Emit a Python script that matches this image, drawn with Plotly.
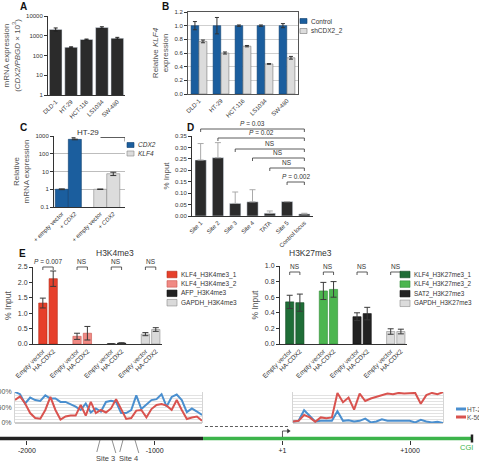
import plotly.graph_objects as go

W, H = 479, 466
def X(p): return p / W
def Y(p): return 1 - p / H

FONT = "Liberation Sans, Arial, sans-serif"
INK = "#333333"

# ---------------- data ----------------
a_cells = ["DLD-1", "HT-29", "HCT-116", "LS1034", "SW-480"]
a_expr = [2100, 260, 650, 2600, 750]
a_err = [380, 15, 30, 250, 80]

b_cells = ["DLD-1", "HT-29", "HCT-116", "LS1034", "SW-480"]
b_control = [1.0, 1.0, 1.0, 1.0, 1.0]
b_control_err = [0.06, 0.12, 0.01, 0.01, 0.03]
b_sh = [0.77, 0.60, 0.70, 0.44, 0.53]
b_sh_err = [0.02, 0.015, 0.01, 0.005, 0.02]

c_treat = ["+ empty vector", "+ <i>CDX2</i>"]
c_genes = ["CDX2", "KLF4"]
c_vals = [[1.0, 650.0], [1.0, 7.5]]
c_errs = [[0.05, 40.0], [0.03, 1.6]]

d_sites = ["Site 1", "Site 2", "Site 3", "Site 4", "TATA", "Site 5", "Control locus"]
d_vals = [0.245, 0.255, 0.055, 0.062, 0.012, 0.063, 0.009]
d_errs = [0.072, 0.066, 0.05, 0.053, 0.01, 0.0, 0.003]
d_tests = [("Site 1", "<i>P</i> = 0.03"), ("Site 2", "<i>P</i> = 0.02"), ("Site 3", "NS"),
           ("Site 4", "NS"), ("TATA", "NS"), ("Site 5", "<i>P</i> = 0.002")]
d_ref = "Control locus"

e_conditions = ["Empty vector", "HA-CDX2"]
e_k4_names = ["KLF4_H3K4me3_1", "KLF4_H3K4me3_2", "AFP_H3K4me3", "GAPDH_H3K4me3"]
e_k4_vals = [[1.33, 2.12], [0.25, 0.35], [0.005, 0.03], [0.32, 0.47]]
e_k4_errs = [[0.16, 0.25], [0.1, 0.22], [0.003, 0.01], [0.05, 0.06]]
e_k4_tests = ["<i>P</i> = 0.007", "NS", "NS", "NS"]
e_k27_names = ["KLF4_H3K27me3_1", "KLF4_H3K27me3_2", "SAT2_H3K27me3", "GAPDH_H3K27me3"]
e_k27_vals = [[0.54, 0.53], [0.68, 0.70], [0.35, 0.39], [0.16, 0.16]]
e_k27_errs = [[0.085, 0.11], [0.11, 0.10], [0.05, 0.08], [0.035, 0.03]]
e_k27_tests = ["NS", "NS", "NS", "NS"]

meth_up_ht29 = [100, 93, 63, 82, 74, 71, 89, 79, 79, 68, 68, 61, 53, 42, 63, 34, 47, 37, 68, 72,
                68, 32, 32, 42, 89, 45, 58, 74, 77, 93, 53, 84, 92, 74, 35, 47, 37, 26]
meth_up_k562 = [74, 86, 63, 32, 16, 14, 42, 84, 42, 11, 21, 24, 24, 58, 24, 68, 32, 42, 34, 47,
                77, 47, 13, 16, 40, 42, 18, 45, 58, 61, 56, 42, 74, 42, 13, 18, 21, 7]
meth_cgi_ht29 = [5, 7, 41, 23, 5, 7, 7, 7, 38, 7, 9, 5, 7, 14, 2, 5, 12, 7, 7, 7, 5, 7, 2, 10, 5, 2, 4, 0]
meth_cgi_k562 = [5, 7, 26, 18, 4, 18, 15, 18, 97, 67, 82, 43, 95, 71, 79, 85, 90, 95, 93, 97, 95, 97,
                 97, 62, 90, 97, 93, 99]
meth_names = ["HT-29", "K-562"]

g_ticks = [-2000, -1000, 1, 1000]
g_ticktext = ["-2000", "-1000", "+1", "+1000"]
g_window = [-2211, 1540]
g_cgi = [-621, 1485]
g_gap = [-606, 60]
g_sites = [("Site 3", -1428, -1334), ("Site 4", -1248, -1154)]

# ---------------- colours ----------------
DARK = "#2b2b2b"
BLUE = "#1b5e9e"
LGREY = "#dcdcdc"
k4_colors = ["#e6402b", "#f08a84", "#222222", "#dadada"]
k4_lines = ["#b52a17", "#c9564f", "#111111", "#8a8a8a"]
k27_colors = ["#1f6e37", "#4cb64f", "#222222", "#dcdcdc"]
k27_lines = ["#134a23", "#2f8b35", "#111111", "#8a8a8a"]
meth_colors = ["#4a8fcf", "#d9534f"]

fig = go.Figure()
shapes, annos = [], []

def ax(**kw):
    base = dict(showgrid=False, zeroline=False, showline=True, linecolor=INK, linewidth=1,
                ticks="outside", ticklen=3, tickwidth=1, tickcolor=INK, automargin=False,
                tickfont=dict(size=6, color=INK, family=FONT), fixedrange=True)
    base.update(kw)
    return base

def ytitle(t, size=8):
    return dict(text=t, font=dict(size=size, color="#555555", family=FONT), standoff=4)

def text(x, y, t, size=7, color=INK, xref="paper", yref="paper", **kw):
    d = dict(x=x, y=y, xref=xref, yref=yref, text=t, showarrow=False,
             font=dict(size=size, color=color, family=FONT))
    d.update(kw)
    annos.append(d)

def line(x0, y0, x1, y1, xref="paper", color=INK, width=0.8, dash=None):
    ln = dict(color=color, width=width)
    if dash:
        ln["dash"] = dash
    shapes.append(dict(type="line", xref=xref, yref="paper", x0=x0, x1=x1, y0=y0, y1=y1, line=ln))

def bracket(xref, xa, xb, ypx, label, size=6.5, drop=3):
    line(xa, Y(ypx), xb, Y(ypx), xref=xref)
    line(xa, Y(ypx), xa, Y(ypx + drop), xref=xref)
    line(xb, Y(ypx), xb, Y(ypx + drop), xref=xref)
    text((xa + xb) / 2, Y(ypx - 0.5), label, size=size, xref=xref, yanchor="bottom")

def legend_box(items, x0, y0, step, sw=7, sh=5, size=7):
    for i, (name, fill, edge) in enumerate(items):
        yc = y0 + i * step
        shapes.append(dict(type="rect", xref="paper", yref="paper", x0=X(x0), x1=X(x0 + sw),
                           y0=Y(yc + sh / 2), y1=Y(yc - sh / 2), fillcolor=fill,
                           line=dict(color=edge, width=0.6)))
        text(X(x0 + sw + 2), Y(yc), name, size=size, xanchor="left", yanchor="middle")

# ---------------- A ----------------
fig.add_trace(go.Bar(x=a_cells, y=a_expr, width=0.82, marker=dict(color=DARK),
                     error_y=dict(type="data", array=a_err, color="#222", thickness=1, width=2),
                     xaxis="x", yaxis="y"))

# ---------------- B ----------------
fig.add_trace(go.Bar(x=b_cells, y=b_control, width=0.35, offset=-0.36,
                     marker=dict(color=BLUE, line=dict(color="#0e3d6b", width=0.5)),
                     error_y=dict(type="data", array=b_control_err, color="#333", thickness=1, width=2),
                     xaxis="x2", yaxis="y2"))
fig.add_trace(go.Bar(x=b_cells, y=b_sh, width=0.36, offset=0.0,
                     marker=dict(color=LGREY, line=dict(color="#777", width=0.6)),
                     error_y=dict(type="data", array=b_sh_err, color="#333", thickness=1, width=2),
                     xaxis="x2", yaxis="y2"))
legend_box([("Control", BLUE, "#0e3d6b"), ("shCDX2_2", LGREY, "#777")], 300, 21, 10, size=6.5)

# ---------------- C ----------------
c_pos = []
for g, gene in enumerate(c_genes):
    xs = [g * 2.95 + j for j in range(len(c_treat))]
    c_pos += xs
    fill, edge = (BLUE, "#0e3d6b") if g == 0 else (LGREY, "#888")
    fig.add_trace(go.Bar(x=xs, y=c_vals[g], width=1.0, marker=dict(color=fill, line=dict(color=edge, width=0.6)),
                         error_y=dict(type="data", array=c_errs[g], color="#333", thickness=1, width=3),
                         xaxis="x3", yaxis="y3"))
legend_box([("<i>CDX2</i>", BLUE, "#0e3d6b"), ("<i>KLF4</i>", LGREY, "#888")], 127, 145, 8.5, size=6.5)
line(0.75, Y(137.5), 4.85, Y(137.5), xref="x3")
line(4.85, Y(137.5), 4.85, Y(141.5), xref="x3")
text(sum(c_pos) / len(c_pos), Y(139), "HT-29", size=8, xref="x3", yanchor="bottom", bgcolor="white")

# ---------------- D ----------------
fig.add_trace(go.Bar(x=list(range(len(d_sites))), y=d_vals, width=0.65, marker=dict(color=DARK),
                     error_y=dict(type="data", symmetric=False, array=d_errs, arrayminus=[0] * len(d_errs),
                                  color="#aaaaaa", thickness=1, width=3),
                     xaxis="x4", yaxis="y4"))
d_levels = [129, 138, 149, 158, 168, 182]
for (site, lab), ypx in zip(d_tests, d_levels):
    bracket("x4", d_sites.index(site), d_sites.index(d_ref), ypx, lab, size=6.5)

# ---------------- E ----------------
def e_panel(names, vals, errs, tests, colors, edges, xa, ya, levels):
    ticks = []
    for g in range(len(names)):
        xs = [g * 3.3 + j for j in range(len(e_conditions))]
        ticks += xs
        fig.add_trace(go.Bar(x=xs, y=vals[g], width=0.8,
                             marker=dict(color=colors[g], line=dict(color=edges[g], width=0.6)),
                             error_y=dict(type="data", array=errs[g], color="#3a3a3a", thickness=1, width=3),
                             xaxis=xa, yaxis=ya))
        bracket(xa, xs[0], xs[-1], levels, tests[g], size=6.5)
    return ticks

e_ticks = e_panel(e_k4_names, e_k4_vals, e_k4_errs, e_k4_tests, k4_colors, k4_lines, "x5", "y5", 267)
e_panel(e_k27_names, e_k27_vals, e_k27_errs, e_k27_tests, k27_colors, k27_lines, "x6", "y6", 272)
e_ticktext = e_conditions * len(e_k4_names)
legend_box(list(zip(e_k4_names, k4_colors, k4_lines)), 167, 274.5, 9.4, sw=10, sh=6.5, size=6.5)
legend_box(list(zip(e_k27_names, k27_colors, k27_lines)), 400, 274.5, 9.6, sw=10, sh=6.5, size=6.3)
text(X(94), Y(253), "H3K4me3", size=8.5, yanchor="middle")
text(X(310), Y(253), "H3K27me3", size=8.5, yanchor="middle")

# ---------------- methylation profiles ----------------
for vals, c, xa, ya in [(meth_up_ht29, meth_colors[0], "x7", "y7"), (meth_up_k562, meth_colors[1], "x7", "y7"),
                        (meth_cgi_ht29, meth_colors[0], "x8", "y8"), (meth_cgi_k562, meth_colors[1], "x8", "y8")]:
    fig.add_trace(go.Scatter(x=list(range(len(vals))), y=vals, mode="lines",
                             line=dict(color=c, width=2), xaxis=xa, yaxis=ya))
for i, (nm, c) in enumerate(zip(meth_names, meth_colors)):
    yc = 409 + i * 8
    line(X(456), Y(yc), X(466), Y(yc), color=c, width=3)
    text(X(465), Y(yc), nm, size=6.5, color="#555", xanchor="left", yanchor="middle")

# ---------------- genomic map ----------------
line(g_window[0], Y(438.5), g_cgi[0], Y(438.5), xref="x9", color="#222", width=3.5)
line(g_cgi[0], Y(438.5), g_cgi[1], Y(438.5), xref="x9", color="#3cb44b", width=3.5)
line(g_cgi[1], Y(434.5), g_cgi[1], Y(442.5), xref="x9", color="#222", width=2.5)
line(g_gap[0], Y(426.5), g_gap[1], Y(426.5), xref="x9", color="#333", width=0.8, dash="3px,2px")
# TSS bent arrow at +1
line(1, Y(437), 1, Y(431), xref="x9", color="#333", width=0.8)
line(1, Y(431), 45, Y(431), xref="x9", color="#333", width=0.8)
shapes.append(dict(type="path", xref="x9", yref="paper",
                   path="M 40,%f L 62,%f L 40,%f Z" % (Y(429), Y(431), Y(433)),
                   fillcolor="#333", line=dict(color="#333", width=0.5)))
text(1440, Y(447.5), "CGI", size=7.5, color="#3cb44b", xref="x9", yanchor="middle")
for name, s0, s1 in g_sites:
    line(s0, Y(440), s0 - 25, Y(452), xref="x9", color="#444", width=0.6)
    line(s1, Y(440), s1 + 30, Y(453), xref="x9", color="#444", width=0.6)
    text((s0 + s1) / 2, Y(458), name, size=7.5, color="#444", xref="x9", yanchor="middle")

# ---------------- panel letters ----------------
for lab, xp, yp in [("A", 18, 7), ("B", 165, 7), ("C", 18, 127), ("D", 190, 127), ("E", 17, 253)]:
    text(X(xp), Y(yp), "<b>%s</b>" % lab, size=10, color="#111", yanchor="middle")

rot = dict(tickangle=-45, ticks="")
grid_light = "#e2e2e2"
fig.update_layout(
    width=W, height=H, margin=dict(l=0, r=0, t=0, b=0, pad=0, autoexpand=False), showlegend=False,
    paper_bgcolor="white", plot_bgcolor="white", barmode="overlay",
    font=dict(family=FONT, color=INK, size=7),
    xaxis=ax(domain=[X(48), X(125)], anchor="y", **rot),
    yaxis=ax(domain=[Y(95), Y(16)], anchor="x", type="log", range=[0, 4],
             tickvals=[1, 10, 100, 1000, 10000], ticktext=["1", "10", "100", "1000", "10000"],
             title=ytitle("mRNA expression<br>(<i>CDX2/PBGD</i> × 10<sup>3</sup>)")),
    xaxis2=ax(domain=[X(188), X(298)], anchor="y2", mirror=True, linecolor="#555", **rot),
    yaxis2=ax(domain=[Y(94), Y(12)], anchor="x2", range=[0, 1.2], dtick=0.2, tickformat=".1f",
              showgrid=True, gridcolor="#cfcfcf", mirror=True, linecolor="#555",
              title=ytitle("Relative <i>KLF4</i><br>expression")),
    xaxis3=ax(domain=[X(54), X(125)], anchor="y3", range=[-0.6, 4.85], tickvals=c_pos,
              ticktext=c_treat * len(c_genes), **rot),
    yaxis3=ax(domain=[Y(207), Y(136)], anchor="x3", type="log", range=[-1, 3],
              tickvals=[0.1, 1, 10, 100, 1000], ticktext=["0.1", "1", "10", "100", "1000"],
              showgrid=True, gridcolor="#bdbdbd", title=ytitle("Relative<br>mRNA expression")),
    xaxis4=ax(domain=[X(192), X(313)], anchor="y4", range=[-0.5, 6.5], tickvals=list(range(len(d_sites))),
              ticktext=d_sites, **rot),
    yaxis4=ax(domain=[Y(216), Y(136)], anchor="x4", range=[0, 0.35], dtick=0.05, tickformat=".2f",
              title=ytitle("% Input")),
    xaxis5=ax(domain=[X(33), X(162)], anchor="y5", range=[-0.95, 11.5], tickvals=e_ticks,
              ticktext=e_ticktext, tickfont=dict(size=6.5, color=INK, family=FONT), **rot),
    yaxis5=ax(domain=[Y(344), Y(267)], anchor="x5", range=[0, 2.5], dtick=0.5, tickformat=".1f",
              tickfont=dict(size=7, color=INK, family=FONT), title=ytitle("% Input", 8.5)),
    xaxis6=ax(domain=[X(280), X(407)], anchor="y6", range=[-0.95, 11.5], tickvals=e_ticks,
              ticktext=e_ticktext, tickfont=dict(size=6.5, color=INK, family=FONT), **rot),
    yaxis6=ax(domain=[Y(344), Y(266)], anchor="x6", range=[0, 1.0], dtick=0.2, tickformat=".1f",
              tickfont=dict(size=7, color=INK, family=FONT), title=ytitle("% Input", 8.5)),
    xaxis7=dict(domain=[X(15), X(202)], anchor="y7", range=[0, len(meth_up_ht29) - 1], visible=False,
                fixedrange=True, automargin=False),
    yaxis7=dict(domain=[Y(423), Y(392)], anchor="x7", range=[0, 100], tickvals=[0, 50, 100],
                ticktext=["0%", "50%", "100%"], showgrid=True, gridcolor=grid_light,
                minor=dict(dtick=10, showgrid=True, gridcolor=grid_light), zeroline=True,
                zerolinecolor="#cccccc", showline=True, mirror=True, linecolor="#d5d5d5",
                ticks="", ticklabelstandoff=1, automargin=False,
                tickfont=dict(size=7, color="#555", family=FONT), fixedrange=True),
    xaxis8=dict(domain=[X(293), X(443)], anchor="y8", range=[0, len(meth_cgi_ht29) - 1], visible=False,
                fixedrange=True, automargin=False),
    yaxis8=dict(domain=[Y(423), Y(392)], anchor="x8", range=[0, 100], tickvals=[0, 50, 100],
                showticklabels=False, showgrid=True, gridcolor=grid_light,
                minor=dict(dtick=10, showgrid=True, gridcolor=grid_light), zeroline=True,
                zerolinecolor="#cccccc", showline=True, mirror=True, linecolor="#d5d5d5",
                fixedrange=True, automargin=False),
    xaxis9=dict(domain=[0, 1], anchor="y9", range=g_window, tickvals=g_ticks, ticktext=g_ticktext,
                ticks="outside", ticklen=4, tickwidth=1, tickcolor="#333", showline=False,
                showgrid=False, zeroline=False, tickfont=dict(size=7, color="#222", family=FONT),
                fixedrange=True, automargin=False),
    yaxis9=dict(domain=[Y(440), Y(439)], anchor="x9", range=[0, 1], visible=False, fixedrange=True,
                automargin=False),
    shapes=shapes, annotations=annos,
)

fig.write_html("out.html")
